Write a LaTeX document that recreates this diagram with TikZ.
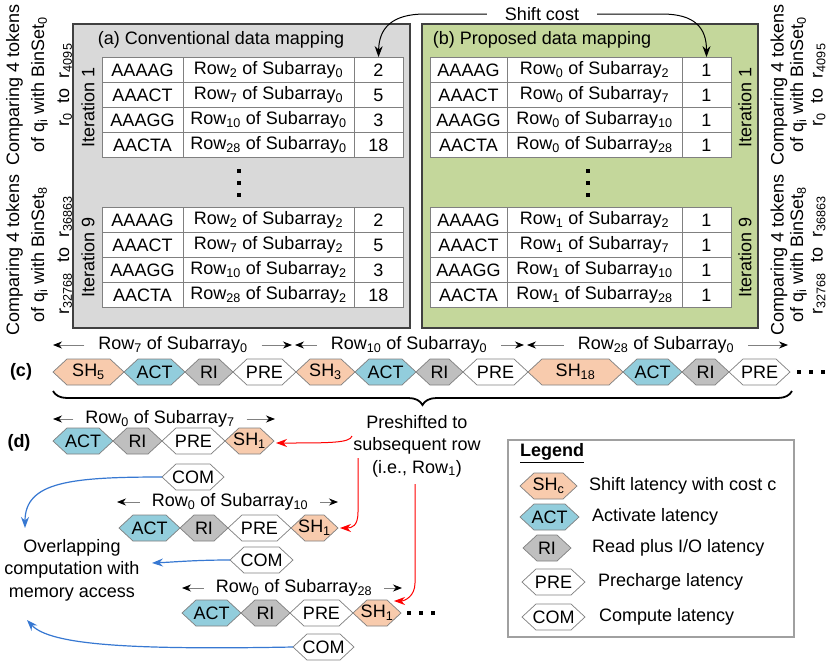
\documentclass[tikz,border=0pt]{standalone}
\usepackage{fontspec}
\setmainfont{Liberation Sans}
\usetikzlibrary{arrows.meta,decorations.pathreplacing}
\definecolor{shc}{RGB}{248,203,173}
\definecolor{actc}{RGB}{146,205,220}
\definecolor{ric}{RGB}{191,191,191}
\definecolor{graybox}{RGB}{217,217,217}
\definecolor{greenbox}{RGB}{196,215,155}
\definecolor{boxedge}{RGB}{64,64,64}
\definecolor{linegray}{RGB}{128,128,128}
\definecolor{legedge}{RGB}{160,160,160}
\definecolor{redarr}{RGB}{255,0,0}
\definecolor{bluearr}{RGB}{55,120,210}
\newcommand{\fsz}{\fontsize{18}{21.6}\selectfont}
\newcommand{\sbs}[1]{\textsubscript{#1}}
\newcommand{\hexa}[6]{%
  \filldraw[hexline,fill=#5] (#2,#4) -- (#2+14,#4-13) -- (#3-14,#4-13) -- (#3,#4) -- (#3-14,#4+13) -- (#2+14,#4+13) -- cycle;
  \node[hextext] (#1) at ({(#2+#3)/2},#4) {#6};}
\newcommand{\sqdot}[2]{\fill (#1-2.2,#2-2.2) rectangle (#1+2.2,#2+2.2);}
\tikzset{
  every node/.style={font=\fsz},
  hexline/.style={draw=linegray,line width=0.7pt},
  hextext/.style={inner sep=0pt},
  cell/.style={draw=linegray,fill=white,line width=0.8pt,minimum height=25pt,inner sep=0pt},
  mapbox/.style={draw=boxedge,line width=1.6pt},
  lab/.style={inner sep=0pt,outer xsep=14pt},
  dimarrow/.style={draw=linegray,line width=0.8pt,-{Stealth[length=9pt,width=7pt,color=black]}},
  blackarrow/.style={line width=1pt,-{Stealth[length=11pt,width=8pt]}},
  redarrow/.style={draw=redarr,line width=1pt,-{Stealth[length=11pt,width=8pt]}},
  bluearrow/.style={draw=bluearr,line width=1.2pt,-{Stealth[length=11pt,width=8pt]}},
  rottext/.style={rotate=90,align=center,inner sep=0pt},
}
\begin{document}
\begin{tikzpicture}[x=1pt,y=-1pt]
\useasboundingbox (0,0) rectangle (831,665);
\fill[white] (0,0) rectangle (831,665);

% mapping boxes
\node[mapbox,fill=graybox,minimum width=337pt,minimum height=304pt] (boxa) at (241.5,176) {};
\node[mapbox,fill=greenbox,minimum width=336pt,minimum height=304pt] (boxb) at (590,176) {};
\node (titlea) at (221,40) {(a) Conventional data mapping};
\node (titleb) at (542,40) {(b) Proposed data mapping};

% tables (a)
\foreach \tk/\rw/\cs [count=\i] in {AAAAG/Row\sbs{2} of Subarray\sbs{0}/2, AAACT/Row\sbs{7} of Subarray\sbs{0}/5, AAAGG/Row\sbs{10} of Subarray\sbs{0}/3, AACTA/Row\sbs{28} of Subarray\sbs{0}/18}{
  \node[cell,minimum width=81pt] (ga\i) at (142.5,45+25*\i) {\tk};
  \node[cell,minimum width=171pt] (gb\i) at (268.5,45+25*\i) {\rw};
  \node[cell,minimum width=49pt] (gc\i) at (378.5,45+25*\i) {\cs};
}
\foreach \tk/\rw/\cs [count=\i] in {AAAAG/Row\sbs{2} of Subarray\sbs{2}/2, AAACT/Row\sbs{7} of Subarray\sbs{2}/5, AAAGG/Row\sbs{10} of Subarray\sbs{2}/3, AACTA/Row\sbs{28} of Subarray\sbs{2}/18}{
  \node[cell,minimum width=81pt] (ha\i) at (142.5,195+25*\i) {\tk};
  \node[cell,minimum width=171pt] (hb\i) at (268.5,195+25*\i) {\rw};
  \node[cell,minimum width=49pt] (hc\i) at (378.5,195+25*\i) {\cs};
}
% tables (b)
\foreach \tk/\rw [count=\i] in {AAAAG/Row\sbs{0} of Subarray\sbs{2}, AAACT/Row\sbs{0} of Subarray\sbs{7}, AAAGG/Row\sbs{0} of Subarray\sbs{10}, AACTA/Row\sbs{0} of Subarray\sbs{28}}{
  \node[cell,minimum width=77pt] (pa\i) at (468.5,45+25*\i) {\tk};
  \node[cell,minimum width=175pt] (pb\i) at (594.5,45+25*\i) {\rw};
  \node[cell,minimum width=49pt] (pc\i) at (706.5,45+25*\i) {1};
}
\foreach \tk/\rw [count=\i] in {AAAAG/Row\sbs{1} of Subarray\sbs{2}, AAACT/Row\sbs{1} of Subarray\sbs{7}, AAAGG/Row\sbs{1} of Subarray\sbs{10}, AACTA/Row\sbs{1} of Subarray\sbs{28}}{
  \node[cell,minimum width=77pt] (qa\i) at (468.5,195+25*\i) {\tk};
  \node[cell,minimum width=175pt] (qb\i) at (594.5,195+25*\i) {\rw};
  \node[cell,minimum width=49pt] (qc\i) at (706.5,195+25*\i) {1};
}
% vertical dots
\sqdot{239}{171}\sqdot{239}{183}\sqdot{239}{195}
\sqdot{588}{171}\sqdot{588}{183}\sqdot{588}{195}

% iteration labels
\node[rottext] (ita1) at (88,107) {Iteration 1};
\node[rottext] (ita9) at (88,257) {Iteration 9};
\node[rottext] (itb1) at (745,107) {Iteration 1};
\node[rottext] (itb9) at (745,257) {Iteration 9};

% outer side labels
\node[rottext,font=\fontsize{18}{25}\selectfont] (sl1) at (39,85) {Comparing 4 tokens\\of q\sbs{i} with BinSet\sbs{0}\\r\sbs{0}~~to~~r\sbs{4095}};
\node[rottext,font=\fontsize{18}{25}\selectfont] (sl2) at (39,255) {Comparing 4 tokens\\of q\sbs{i} with BinSet\sbs{8}\\r\sbs{32768}~~to~~r\sbs{36863}};
\node[rottext,font=\fontsize{18}{19.5}\selectfont] (sr1) at (798,85) {Comparing 4 tokens\\of q\sbs{i} with BinSet\sbs{0}\\r\sbs{0}~~to~~r\sbs{4095}};
\node[rottext,font=\fontsize{18}{19.5}\selectfont] (sr2) at (798,255) {Comparing 4 tokens\\of q\sbs{i} with BinSet\sbs{8}\\r\sbs{32768}~~to~~r\sbs{36863}};

% shift cost
\node[inner xsep=0pt,outer xsep=18pt] (shift) at (542,14) {Shift cost};
\draw[blackarrow] (shift.west) -- (425,14) .. controls (392,14) and (379,28) .. (gc1.north);
\draw[blackarrow] (shift.east) -- (662,14) .. controls (695,14) and (706.5,28) .. (pc1.north);

% (c)
\node (lc) at (21,372) {\textbf{(c)}};
\node[lab] (r7) at (173,345) {Row\sbs{7} of Subarray\sbs{0}};
\node[lab] (r10) at (409,345) {Row\sbs{10} of Subarray\sbs{0}};
\node[lab] (r28) at (656,345) {Row\sbs{28} of Subarray\sbs{0}};
\coordinate (r7a) at (53,345); \coordinate (r7b) at (292,345);
\coordinate (r10a) at (295,345); \coordinate (r10b) at (524,345);
\coordinate (r28a) at (527,345); \coordinate (r28b) at (788,345);
\draw[dimarrow] (r7.west) -- (r7a); \draw[dimarrow] (r7.east) -- (r7b);
\draw[dimarrow] (r10.west) -- (r10a); \draw[dimarrow] (r10.east) -- (r10b);
\draw[dimarrow] (r28.west) -- (r28a); \draw[dimarrow] (r28.east) -- (r28b);

\hexa{c1}{53}{124}{372}{shc}{SH\sbs{5}}
\hexa{c2}{124}{185}{372}{actc}{ACT}
\hexa{c3}{185}{233}{372}{ric}{RI}
\hexa{c4}{233}{296}{372}{white}{PRE}
\hexa{c5}{296}{355}{372}{shc}{SH\sbs{3}}
\hexa{c6}{355}{416}{372}{actc}{ACT}
\hexa{c7}{416}{463}{372}{ric}{RI}
\hexa{c8}{463}{528}{372}{white}{PRE}
\hexa{c9}{528}{623}{372}{shc}{SH\sbs{18}}
\hexa{c10}{623}{682}{372}{actc}{ACT}
\hexa{c11}{682}{729}{372}{ric}{RI}
\hexa{c12}{729}{790}{372}{white}{PRE}
\sqdot{799}{372}\sqdot{811}{372}\sqdot{823}{372}
\draw[line width=1.8pt,decorate,decoration={brace,amplitude=14pt}] (792,391) -- (53,391);

% (d)
\node (ld) at (19,443) {\textbf{(d)}};
\node[lab,outer xsep=12pt] (d1) at (160,419) {Row\sbs{0} of Subarray\sbs{7}};
\coordinate (d1a) at (53,419); \coordinate (d1b) at (275,419);
\draw[dimarrow] (d1.west) -- (d1a); \draw[dimarrow] (d1.east) -- (d1b);
\hexa{e1}{53}{113}{441}{actc}{ACT}
\hexa{e2}{113}{162}{441}{ric}{RI}
\hexa{e3}{162}{225}{441}{white}{PRE}
\hexa{e4}{225}{274}{441}{shc}{SH\sbs{1}}
\hexa{m1}{162}{224}{477}{white}{COM}

\node[lab,outer xsep=12pt] (d2) at (230,502) {Row\sbs{0} of Subarray\sbs{10}};
\coordinate (d2a) at (117,502); \coordinate (d2b) at (338,502);
\draw[dimarrow] (d2.west) -- (d2a); \draw[dimarrow] (d2.east) -- (d2b);
\hexa{f1}{119}{180}{528}{actc}{ACT}
\hexa{f2}{180}{228}{528}{ric}{RI}
\hexa{f3}{228}{291}{528}{white}{PRE}
\hexa{f4}{291}{338}{528}{shc}{SH\sbs{1}}
\hexa{m2}{230}{293}{560}{white}{COM}

\node[lab,outer xsep=12pt] (d3) at (294,588) {Row\sbs{0} of Subarray\sbs{28}};
\coordinate (d3a) at (182,588); \coordinate (d3b) at (402,588);
\draw[dimarrow] (d3.west) -- (d3a); \draw[dimarrow] (d3.east) -- (d3b);
\hexa{g1}{182}{241}{613}{actc}{ACT}
\hexa{g2}{241}{290}{613}{ric}{RI}
\hexa{g3}{290}{353}{613}{white}{PRE}
\hexa{g4}{353}{401}{613}{shc}{SH\sbs{1}}
\sqdot{409}{613}\sqdot{421}{613}\sqdot{433}{613}
\hexa{m3}{293}{354}{647}{white}{COM}

\node[align=center,font=\fontsize{18}{22.5}\selectfont] (overlap) at (72,570) {Overlapping\\computation with\\memory access};
\node[align=center,font=\fontsize{18}{22.5}\selectfont] (presh) at (417,446) {Preshifted to\\subsequent row\\(i.e., Row\sbs{1})};

% red arrows
\coordinate (rs1) at (352,436);
\coordinate (rs2) at (358,458);
\coordinate (rs3) at (415,484);
\coordinate (rt1) at (276,443);
\coordinate (rt2) at (340,528);
\coordinate (rt3) at (394,601);
\draw[redarrow] (rs1) .. controls (350,443) and (330,443) .. (rt1);
\draw[redarrow] (rs2) -- (358,512) .. controls (358,526) and (352,528) .. (rt2);
\draw[redarrow] (rs3) -- (415,583) .. controls (415,596) and (405,601) .. (rt3);

% blue arrows
\coordinate (bt1) at (25,528);
\coordinate (bt2) at (152,563);
\coordinate (bt3) at (27,620);
\draw[bluearrow] (162,477) .. controls (70,477) and (25,482) .. (bt1);
\draw[bluearrow] (230,560) .. controls (195,560) and (175,562) .. (bt2);
\draw[bluearrow] (293,647) .. controls (130,650) and (50,645) .. (bt3);

% legend
\node[draw=legedge,line width=1.2pt,minimum width=286pt,minimum height=197pt] (legend) at (651,538.5) {};
\node (legtitle) at (552,453) {\textbf{\underline{Legend}}};
\hexa{l1}{520}{577}{486}{shc}{SH\sbs{c}}
\hexa{l2}{520}{579}{517}{actc}{ACT}
\hexa{l3}{523}{571}{548}{ric}{RI}
\hexa{l4}{522}{585}{582}{white}{PRE}
\hexa{l5}{522}{585}{617}{white}{COM}
\node[anchor=west,inner sep=0pt] (lt1) at (589,486) {Shift latency with cost c};
\node[anchor=west,inner sep=0pt] (lt2) at (592,517) {Activate latency};
\node[anchor=west,inner sep=0pt] (lt3) at (592,548) {Read plus I/O latency};
\node[anchor=west,inner sep=0pt] (lt4) at (598,582) {Precharge latency};
\node[anchor=west,inner sep=0pt] (lt5) at (599,617) {Compute latency};
\end{tikzpicture}
\end{document}
